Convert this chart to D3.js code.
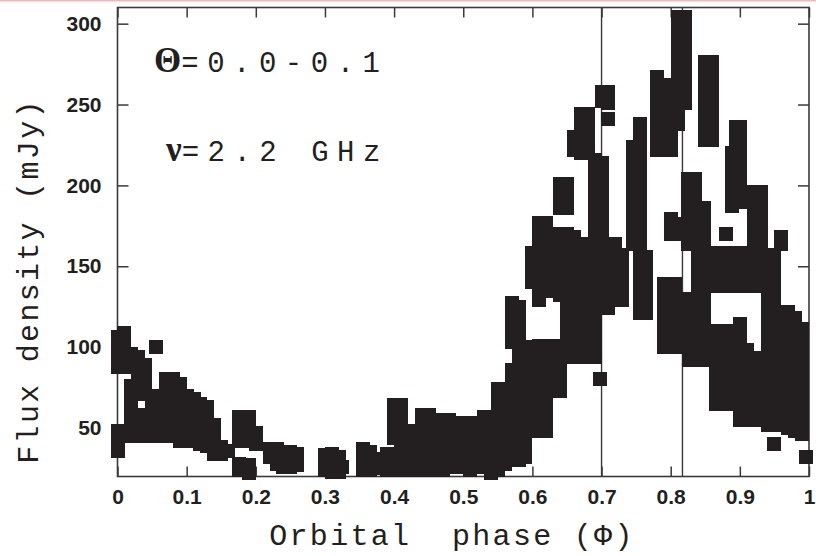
<!DOCTYPE html>
<html><head><meta charset="utf-8">
<script src="https://cdn.jsdelivr.net/npm/d3@7"></script>
<style>body{margin:0;background:#fff;} svg{display:block}</style>
</head><body><svg id="c" width="816" height="556"></svg>
<script>
// ---- data ----
const phaseCols = [0.000,0.010,0.020,0.030,0.040,0.050,0.055,0.070,0.080,0.090,0.100,0.110,0.120,0.130,0.140,0.150,0.160,0.175,0.190,0.200,
0.220,0.230,0.240,0.250,0.260,0.300,0.310,0.320,0.325,0.355,0.365,0.375,0.390,0.400,0.410,0.420,0.430,0.440,0.450,0.460,0.470,0.480,0.490,0.500,
0.510,0.520,0.530,0.540,0.550,0.560,0.570,0.580,0.590,0.600,0.610,0.620,0.630,0.640,0.650,0.660,0.670,0.680,0.690,0.698,0.700,0.710,0.720,0.730,
0.745,0.755,0.765,0.780,0.790,0.800,0.806,0.810,0.820,0.825,0.827,0.835,0.840,0.848,0.850,0.860,0.866,0.870,0.880,0.888,0.890,0.895,0.900,0.910,
0.920,0.930,0.940,0.950,0.960,0.970,0.980,0.990,0.995];
const fluxCols = [
[36,42,48,88,94,100,106],
[88,94,100,106,109],
[45,51,57,63,69,76,90,96],
[50,71,77,83,89,94],
[45,52,58,71,77,83,89],
[45,51,57,63,70],
[100],
[45,52,59,66,73,80],
[45,52,59,66,73,80],
[42,49,56,63,70,77],
[42,49,56,63,70],
[42,49,56,63,68],
[40,46,53,60,65],
[39,45,52,58,63],
[34,40,46,52],
[34,38],
[36],
[24,28,42,48,54,57],
[22,27,42,48,54,57],
[40,47],
[32,37],
[28,34,37],
[26,31,35],
[26,32,35],
[27,34],
[24,30,33],
[23,29,34],
[23,28,32],
[26],
[24,30,37],
[24,30,35],
[25,31],
[24,30,34],
[24,29,34,44,50,57,64],
[24,30,36,44,50,57,64],
[24,30,36,42,48],
[24,30,36,42,48],
[24,30,36,42,48,54,58],
[24,30,36,42,48,54,58],
[24,30,36,42,48,55],
[24,30,36,42,48,55],
[26,32,38,44,50,55],
[26,32,38,44,50,53],
[28,34,40,46,53],
[24,30,36,42,48,53],
[26,32,38,44,50,53],
[28,34,40,46,52,57],
[22,28,34,40,46,52,56],
[24,30,37,44,51,58,64,70,74],
[28,34,40,47,54,60,66,70,74],
[30,37,44,51,58,65,72,79,86,103,110,117,124,127],
[30,37,44,51,58,65,72,79,86,93,100,107,114,120,125],
[32,39,46,53,60,67,74,81,88,95,100],
[60,66,73,80,87,94,100,140,147,154,158],
[48,55,62,69,76,83,90,97,101,129,135,142,149,156,163,170,177],
[48,55,62,69,76,83,90,97,101,135,142,149,156,163,170,177],
[73,80,87,94,101,140,147,154,160,166,170],
[73,80,87,94,100,132,139,146,153,160,166,170,186,193,201],
[94,100,107,114,121,128,135,142,149,156,163,170,186,193,201],
[94,101,108,115,122,129,136,143,150,157,164,168,222,230],
[94,101,108,115,122,129,136,143,150,157,164,220,227,234,240,244],
[94,101,108,115,122,129,136,143,150,156,220,227,234,240,244],
[94,101,108,115,122,129,136,143,150,157,164,171,178,185,192,199,206,213,216],
[80],
[124,131,138,145,152,159,166,173,180,187,194,201,208,214,252,258],
[124,131,138,145,152,159,164,241,251,258],
[129,136,143,150,157,164],
[129,136,143,150,157],
[164,171,178,185,192,199,206,213,220,224],
[121,128,135,142,149,156,163,170,177,184,191,198,205,212,219,226,232,238],
[121,128,135,142,149,156],
[222,229,236,243,250,257,263,267],
[100,107,114,121,128,135,139,222,229,236,243,250,257,262],
[100,107,114,121,128,135,139,170,176,179,222,229,236,243],
[100,107,114,121,128,135,139],
[170,176,238,244,251,258,265,272,279,286,293,299,304],
[251,258,265,272,279,286,293,299,304],
[164,171,178,185,192,199,204],
[92,99,106,113,120,127,130],
[164,171,178,185,192,199,204],
[92,99,106,113,120,127,134,141,148,155,158],
[92,99,106,113,120,127,130,164,171,178,186],
[228,235,242,249,256,263,270,276],
[228,235,242,249,256,263,270,276,138,145,152,158],
[65,72,79,86,93,100,107,110],
[138,145,152,158],
[65,72,79,86,93,100,107,110,170,138,145,152,158],
[187,194,201,208,215,220],
[65,72,79,86,138,145,152,158],
[203,210,217,224,231,236],
[55,62,69,76,83,90,97,104,111,114,138,145,152,158,190,197,204,211,218,225,232,236],
[55,62,69,76,83,90,98,138,145,152,158],
[55,62,69,76,83,90,93,138,145,152,158,164,171,178,185,192,196],
[55,62,69,76,83,90,93,138,145,152,158,164,171,178,185,192,196],
[52,59,66,73,80,87,94,101,108,115,122,129,136,143,150,157],
[40,52,59,66,73,80,87,94,101,108,115,122,129,136,143,150,157],
[56,63,70,77,84,91,98,105,112,119,122,164,168],
[50,57,64,71,78,85,92,99,106,113,120,122],
[48,55,62,69,76,83,90,97,104,111,118],
[46,53,60,67,74,81,88,95,102,109,111],
[32]
];
const xTicks = [0,0.1,0.2,0.3,0.4,0.5,0.6,0.7,0.8,0.9,1];
const xTickLabels = ["0","0.1","0.2","0.3","0.4","0.5","0.6","0.7","0.8","0.9","1"];
const yTicks = [50,100,150,200,250,300];
const phaseLines = [0.7, 0.817];
const xTitle = "Orbital  phase (Φ)";
const yTitle = "Flux density (mJy)";
const labelTheta = ["Θ", "=0.0-0.1"];
const labelNu = ["ν", "=2.2 GHz"];

// ---- drawing ----
const svg = d3.select("#c");
const L = 117.5, R = 809, T = 7.5, B = 476.5;
const x = d3.scaleLinear().domain([0, 1]).range([L, R]);
const y = d3.scaleLinear().domain([20, 310]).range([B, T]);
const ink = "#231f20", frame = "#3a3a3a";

// faint pink rule at the very top
svg.append("line").attr("x1", 0).attr("x2", 816).attr("y1", 0.8).attr("y2", 0.8)
  .attr("stroke", "#e9bcbc").attr("stroke-width", 1.6);

const tickFont = "'Liberation Sans', Arial, Helvetica, sans-serif";

const gx = svg.append("g").attr("transform", `translate(0,${B})`)
  .call(d3.axisBottom(x).tickValues(xTicks).tickFormat((d, i) => xTickLabels[i])
    .tickSizeInner(-10).tickSizeOuter(0).tickPadding(13));
const gy = svg.append("g").attr("transform", `translate(${L},0)`)
  .call(d3.axisLeft(y).tickValues(yTicks).tickSizeInner(-11).tickSizeOuter(0).tickPadding(16));
const gt = svg.append("g").attr("transform", `translate(0,${T})`)
  .call(d3.axisTop(x).tickValues(xTicks).tickFormat("").tickSizeInner(-10).tickSizeOuter(0));
const gr = svg.append("g").attr("transform", `translate(${R},0)`)
  .call(d3.axisRight(y).tickValues(yTicks).tickFormat("").tickSizeInner(-11).tickSizeOuter(0));
[gx, gy, gt, gr].forEach(g => {
  g.select(".domain").remove();
  g.selectAll(".tick line").attr("stroke", frame).attr("stroke-width", 1.5);
  g.selectAll("text").attr("fill", ink).attr("font-family", tickFont)
    .attr("font-weight", "bold").attr("font-size", 21);
});

// frame
svg.append("rect").attr("x", L).attr("y", T).attr("width", R - L).attr("height", B - T)
  .attr("fill", "none").attr("stroke", frame).attr("stroke-width", 1.6);

// vertical phase lines
svg.selectAll("line.ph").data(phaseLines).join("line").attr("class", "ph")
  .attr("x1", d => x(d)).attr("x2", d => x(d)).attr("y1", T).attr("y2", B)
  .attr("stroke", frame).attr("stroke-width", 1.4);

// points
const pts = [];
phaseCols.forEach((p, i) => fluxCols[i].forEach(f => pts.push([p, f])));
const s = 14;
svg.append("g").attr("shape-rendering", "crispEdges").selectAll("rect").data(pts).join("rect")
  .attr("x", d => x(d[0]) - s / 2).attr("y", d => y(d[1]) - s / 2)
  .attr("width", s).attr("height", s).attr("fill", ink);

// titles
const mono = "'Liberation Mono', 'Courier New', Courier, monospace";
svg.append("text").attr("x", 452).attr("y", 545).attr("text-anchor", "middle")
  .attr("font-family", mono).attr("font-size", 30).attr("letter-spacing", 2.3)
  .attr("fill", ink).style("white-space", "pre").text(xTitle);
svg.append("text").attr("transform", "translate(38,281) rotate(-90)").attr("text-anchor", "middle")
  .attr("font-family", mono).attr("font-size", 30).attr("letter-spacing", 2.3)
  .attr("fill", ink).text(yTitle);

function note(parts, xx, yy) {
  const t = svg.append("text").attr("x", xx).attr("y", yy).attr("fill", ink)
    .style("white-space", "pre");
  t.append("tspan").attr("font-family", "'Liberation Serif', 'DejaVu Serif', serif")
    .attr("font-weight", "bold").attr("font-size", 35).text(parts[0]);
  t.append("tspan").attr("font-family", mono).attr("font-size", 29).attr("letter-spacing", 8.5)
    .text(parts[1]);
}
note(labelTheta, 154, 72);
note(labelNu, 166, 161);
</script></body></html>
